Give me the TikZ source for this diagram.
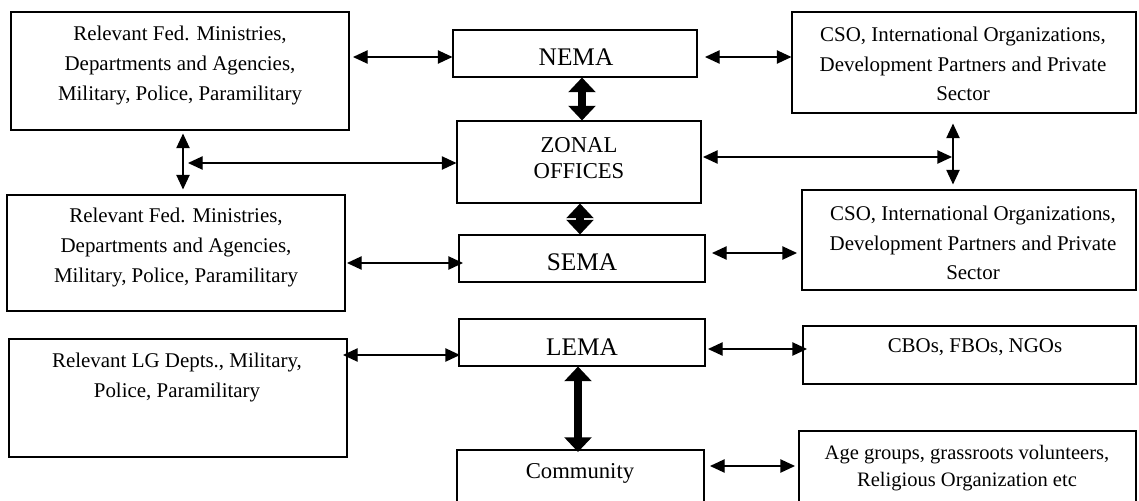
\documentclass[tikz,border=0pt]{standalone}
\usepackage{fontspec}
\setmainfont{Liberation Serif}
\usetikzlibrary{arrows.meta,fit}
\begin{document}
\begin{tikzpicture}[x=0.75pt,y=-0.75pt,
  box/.style={draw, line width=0.8pt, inner sep=0pt, rectangle},
  txt/.style={align=center, inner sep=0pt, font=\fontsize{15.7}{22.5}\selectfont},
  bigtxt/.style={align=center, inner sep=0pt, font=\fontsize{19}{22}\selectfont},
  midtxt/.style={align=center, inner sep=0pt, font=\fontsize{17}{20}\selectfont},
  tarr/.style={line width=1pt, {Triangle[length=11pt,width=10pt]}-{Triangle[length=11pt,width=10pt]}},
  thick arr/.style={line width=6.5pt, {Triangle[length=11pt,width=20pt]}-{Triangle[length=11pt,width=20pt]}}
]
\useasboundingbox (0,0) rectangle (1139,500);
\clip (0,0) rectangle (1139,500);
% boxes
\node[box, fit={(11,12) (349,130)}] (L1) {};
\node[box, fit={(453,30) (697,77)}] (NEMA) {};
\node[box, fit={(457,121) (701,203)}] (ZONAL) {};
\node[box, fit={(792,12) (1136,113)}] (R1) {};
\node[box, fit={(7,195) (345,311)}] (L2) {};
\node[box, fit={(459,235) (705,282)}] (SEMA) {};
\node[box, fit={(802,190) (1136,290)}] (R2) {};
\node[box, fit={(9,339) (347,457)}] (L3) {};
\node[box, fit={(459,319) (705,366)}] (LEMA) {};
\node[box, fit={(803,326) (1136,384)}] (CBO) {};
\node[box, fit={(457,450) (704,520)}] (COM) {};
\node[box, fit={(799,431) (1136,520)}] (AGE) {};
% texts
\node[txt] (L1t) at (180,65) {Relevant Fed. Ministries,\\Departments and Agencies,\\Military, Police, Paramilitary};
\node[bigtxt] (NEMAt) at (576,57) {NEMA};
\node[midtxt] (ZONALt) at (579,158) {ZONAL\\OFFICES};
\node[txt, font=\fontsize{15.7}{22}\selectfont] (R1t) at (963,64) {CSO, International Organizations,\\Development Partners and Private\\Sector};
\node[txt] (L2t) at (176,247) {Relevant Fed. Ministries,\\Departments and Agencies,\\Military, Police, Paramilitary};
\node[bigtxt] (SEMAt) at (582,262) {SEMA};
\node[txt, font=\fontsize{15.7}{22}\selectfont] (R2t) at (973,243) {CSO, International Organizations,\\Development Partners and Private\\Sector};
\node[txt] (L3t) at (177,377) {Relevant LG Depts., Military,\\Police, Paramilitary};
\node[bigtxt] (LEMAt) at (582,347) {LEMA};
\node[txt] (CBOt) at (975,347) {CBOs, FBOs, NGOs};
\node[midtxt] (COMt) at (580,473) {Community};
\node[txt, font=\fontsize{15.4}{20}\selectfont] (AGEt) at (967,468) {Age groups, grassroots volunteers,\\Religious Organization etc};
% free ends on the vertical connectors
\coordinate (vl) at (188,163);
\coordinate (vr) at (952,157);
% connectors
\draw[tarr] (353,0 |- L1.east |- 0,57) -- (NEMA.west |- 0,57);
\draw[tarr] (705,57) -- (R1.west |- 0,57);
\draw[thick arr] (582,0 |- NEMA.south) -- (582,0 |- ZONAL.north);
\draw[tarr, shorten <=2.25pt, shorten >=3.75pt] (183,0 |- L1.south) -- (183,0 |- L2.north);
\draw[tarr] (vl) -- (ZONAL.west |- vl);
\draw[tarr] (703,157) -- (vr);
\draw[tarr, shorten <=7.5pt, shorten >=3.75pt] (953,0 |- R1.south) -- (953,0 |- R2.north);
\draw[thick arr] (580,0 |- ZONAL.south) -- (580,0 |- SEMA.north);
\draw[tarr] (347,263) -- (463,263);
\draw[tarr] (712,253) -- (797,253);
\draw[tarr] (343,355) -- (460,355);
\draw[tarr] (708,349) -- (807,349);
\draw[thick arr] (578,0 |- LEMA.south) -- (578,452);
\draw[tarr] (710,466) -- (795,466);
\end{tikzpicture}
\end{document}
